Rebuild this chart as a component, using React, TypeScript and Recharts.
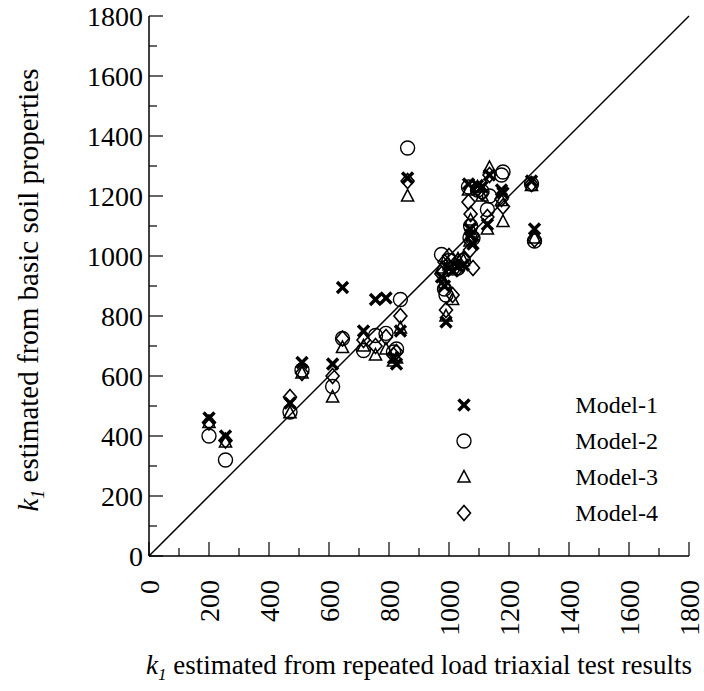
import { Label, Legend, ReferenceLine, Scatter, ScatterChart, XAxis, YAxis } from 'recharts';

// k1 from repeated load triaxial tests (x) and the four models' estimates (y)
const testResults = [200, 255, 470, 510, 612, 645, 715, 755, 790, 815, 825, 838, 862, 975, 985, 990, 1000, 1012, 1030, 1048, 1065, 1070, 1072, 1080, 1095, 1110, 1128, 1135, 1180, 1175, 1275, 1285];
const model1 = [460, 400, 510, 645, 640, 895, 750, 855, 860, 660, 640, 750, 1260, 930, 900, 780, 960, 950, 965, 970, 1240, 1090, 1070, 1040, 1235, 1230, 1105, 1270, 1210, 1220, 1250, 1090];
const model2 = [400, 320, 480, 620, 565, 725, 685, 735, 742, 680, 690, 855, 1360, 1005, 890, 870, 985, 960, 960, 985, 1230, 1060, 1100, 1060, 1220, 1215, 1155, 1200, 1280, 1270, 1240, 1050];
const model3 = [445, 380, 478, 610, 530, 695, 700, 670, 690, 650, 660, 760, 1200, 960, 910, 800, 970, 855, 990, 985, 1220, 1050, 1120, 1080, 1230, 1200, 1090, 1295, 1115, 1185, 1235, 1060];
const model4 = [445, 385, 530, 610, 600, 725, 720, 700, 730, 670, 680, 800, 1250, 940, 980, 820, 1000, 870, 960, 990, 1180, 1020, 1140, 960, 1225, 1210, 1130, 1270, 1165, 1190, 1240, 1055];

const modelNames = ['Model-1', 'Model-2', 'Model-3', 'Model-4'];
const axisTicks = [0, 100, 200, 300, 400, 500, 600, 700, 800, 900, 1000, 1100, 1200, 1300, 1400, 1500, 1600, 1700, 1800];

const FONT = '"Liberation Serif", "Times New Roman", serif';
const MAJOR = 14;
const MINOR = 8;

const toPoints = (ys: number[]) => testResults.map((x, i) => ({ x, y: ys[i] }));

function Marker({ kind, cx, cy }: { kind: number; cx: number; cy: number }) {
  if (kind === 0) {
    return (
      <g stroke="#000" strokeWidth={3.4}>
        <line x1={cx - 5.5} y1={cy - 5.5} x2={cx + 5.5} y2={cy + 5.5} />
        <line x1={cx - 5.5} y1={cy + 5.5} x2={cx + 5.5} y2={cy - 5.5} />
      </g>
    );
  }
  if (kind === 1) return <circle cx={cx} cy={cy} r={7} fill="none" stroke="#000" strokeWidth={1.4} />;
  if (kind === 2) {
    return (
      <polygon
        points={`${cx},${cy - 6.5} ${cx + 6},${cy + 5} ${cx - 6},${cy + 5}`}
        fill="none"
        stroke="#000"
        strokeWidth={1.6}
      />
    );
  }
  return (
    <polygon
      points={`${cx},${cy - 7.5} ${cx + 6.5},${cy} ${cx},${cy + 7.5} ${cx - 6.5},${cy}`}
      fill="none"
      stroke="#000"
      strokeWidth={1.6}
    />
  );
}

function BottomTick({ x, y, payload }: any) {
  const major = payload.value % 200 === 0;
  return (
    <g>
      <line x1={x} y1={y} x2={x} y2={y - (major ? MAJOR : MINOR)} stroke="#000" strokeWidth={1.2} />
      {major && (
        <text
          x={x}
          y={y + 24}
          transform={`rotate(-90 ${x} ${y + 24})`}
          textAnchor="end"
          dominantBaseline="central"
          fontSize={28}
          fontFamily={FONT}
          fill="#000"
        >
          {payload.value}
        </text>
      )}
    </g>
  );
}

function LeftTick({ x, y, payload }: any) {
  const major = payload.value % 200 === 0;
  return (
    <g>
      <line x1={x} y1={y} x2={x + (major ? MAJOR : MINOR)} y2={y} stroke="#000" strokeWidth={1.2} />
      {major && (
        <text x={x - 6} y={y} textAnchor="end" dominantBaseline="central" fontSize={28} fontFamily={FONT} fill="#000">
          {payload.value}
        </text>
      )}
    </g>
  );
}

function TopTick({ x, y, payload }: any) {
  const len = payload.value % 200 === 0 ? MAJOR : MINOR;
  return <line x1={x} y1={y} x2={x} y2={y + len} stroke="#000" strokeWidth={1.2} />;
}

function RightTick({ x, y, payload }: any) {
  const len = payload.value % 200 === 0 ? MAJOR : MINOR;
  return <line x1={x} y1={y} x2={x - len} y2={y} stroke="#000" strokeWidth={1.2} />;
}

function YTitle({ viewBox }: any) {
  const cx = viewBox.x + 38;
  const cy = viewBox.y + viewBox.height / 2 + 4;
  return (
    <text x={cx} y={cy} transform={`rotate(-90 ${cx} ${cy})`} textAnchor="middle" fontSize={29} fontFamily={FONT} fill="#000">
      <tspan fontStyle="italic">k</tspan>
      <tspan fontStyle="italic" fontSize={18} dy={6}>1</tspan>
      <tspan dy={-6}> estimated from basic soil properties</tspan>
    </text>
  );
}

function XTitle({ viewBox }: any) {
  const cx = viewBox.x + viewBox.width / 2;
  const cy = viewBox.y + 118;
  return (
    <text x={cx} y={cy} textAnchor="middle" fontSize={27} fontFamily={FONT} fill="#000">
      <tspan fontStyle="italic">k</tspan>
      <tspan fontStyle="italic" fontSize={17} dy={6}>1</tspan>
      <tspan dy={-6}> estimated from repeated load triaxial test results</tspan>
    </text>
  );
}

function ModelLegend() {
  return (
    <div style={{ width: 204 }}>
      {modelNames.map((name, i) => (
        <div key={name} style={{ height: 36, display: 'flex', alignItems: 'center', justifyContent: 'space-between' }}>
          <svg width={20} height={20}>
            <Marker kind={i} cx={10} cy={10} />
          </svg>
          <span style={{ fontFamily: FONT, fontSize: 24, color: '#000', lineHeight: '24px' }}>{name}</span>
        </div>
      ))}
    </div>
  );
}

export default function App() {
  const series = [model1, model2, model3, model4];
  return (
    <div style={{ position: 'absolute', left: 0, top: 0, background: '#fff' }}>
      <ScatterChart width={704} height={691} margin={{ top: 16, right: 15, bottom: 0, left: 0 }}>
        <XAxis
          type="number"
          dataKey="x"
          domain={[0, 1800]}
          ticks={axisTicks}
          interval={0}
          allowDataOverflow
          height={135}
          tickSize={0}
          tickMargin={0}
          tick={<BottomTick />}
          axisLine={{ stroke: '#000', strokeWidth: 1.5 }}
        >
          <Label content={<XTitle />} />
        </XAxis>
        <YAxis
          type="number"
          dataKey="y"
          domain={[0, 1800]}
          ticks={axisTicks}
          interval={0}
          allowDataOverflow
          width={149}
          tickSize={0}
          tickMargin={0}
          tick={<LeftTick />}
          axisLine={{ stroke: '#000', strokeWidth: 1.5 }}
        >
          <Label content={<YTitle />} />
        </YAxis>
        <XAxis
          xAxisId="top"
          orientation="top"
          type="number"
          domain={[0, 1800]}
          ticks={axisTicks}
          interval={0}
          allowDataOverflow
          height={0}
          tickSize={0}
          tickMargin={0}
          tick={<TopTick />}
          axisLine={{ stroke: '#000', strokeWidth: 1.5 }}
        />
        <YAxis
          yAxisId="right"
          orientation="right"
          type="number"
          domain={[0, 1800]}
          ticks={axisTicks}
          interval={0}
          allowDataOverflow
          width={0}
          tickSize={0}
          tickMargin={0}
          tick={<RightTick />}
          axisLine={{ stroke: '#000', strokeWidth: 1.5 }}
        />
        <ReferenceLine
          segment={[
            { x: 0, y: 0 },
            { x: 1800, y: 1800 },
          ]}
          stroke="#000"
          strokeWidth={1.5}
        />
        {series.map((ys, i) => (
          <Scatter
            key={modelNames[i]}
            name={modelNames[i]}
            data={toPoints(ys)}
            isAnimationActive={false}
            shape={(p: any) => <Marker kind={i} cx={p.cx} cy={p.cy} />}
          />
        ))}
        <Legend
          layout="vertical"
          align="center"
          verticalAlign="middle"
          content={<ModelLegend />}
          wrapperStyle={{ left: 454, top: 387, width: 204 }}
        />
      </ScatterChart>
    </div>
  );
}
